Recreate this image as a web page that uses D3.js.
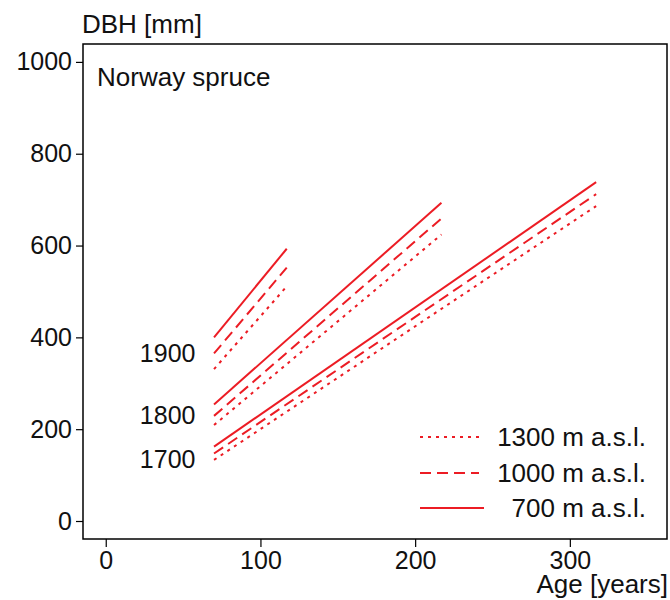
<html lang="en">
<head>
<meta charset="utf-8">
<script src="https://cdn.jsdelivr.net/npm/d3@7"></script>
</head>
<style>
body{margin:0;background:#fff;}
svg{font-family:"Liberation Sans",Arial,sans-serif;}
</style>
<body>
<div id="drawarea"></div>
<script>
// cohorts (germination century), ages at start / end of each curve
const cohorts = ["1700","1800","1900"]
const ages = {"1700":[70,317],"1800":[70,217],"1900":[70,117]}
// DBH [mm] at the ages above, per elevation
const dbh700  = {"1700":[162,738],"1800":[254,693],"1900":[400,593]}
const dbh1000 = {"1700":[147,712],"1800":[229,659],"1900":[365,552]}
const dbh1300 = {"1700":[133,686],"1800":[209,624],"1900":[331,511]}
const elevations = ["1300 m a.s.l.","1000 m a.s.l.","700 m a.s.l."]
const xTicks = [0,100,200,300]
const yTicks = [0,200,400,600,800,1000]
// where the cohort names sit (age, dbh)
const cohortLabelPos = {"1700":[58,115],"1800":[58,211],"1900":[58,347]}

const W=670,H=600
const red="#ec1c24"
const box={l:83,r:667,t:44,b:539}

const x=d3.scaleLinear().domain([-14.7,362.8]).range([box.l,box.r])
const y=d3.scaleLinear().domain([-39.2,1039]).range([box.b,box.t])

const svg=d3.select("#drawarea").append("svg").attr("width",W).attr("height",H)

svg.append("rect").attr("x",box.l).attr("y",box.t).attr("width",box.r-box.l).attr("height",box.b-box.t)
  .attr("fill","none").attr("stroke","#000").attr("stroke-width",1.5)

// axes
const yAxis=d3.axisLeft(y).tickValues(yTicks).tickFormat(d3.format("d")).tickSize(7).tickPadding(4)
const gy=svg.append("g").attr("transform","translate("+box.l+",0)").call(yAxis)
const xAxis=d3.axisBottom(x).tickValues(xTicks).tickFormat(d3.format("d")).tickSize(8).tickPadding(4)
const gx=svg.append("g").attr("transform","translate(0,"+box.b+")").call(xAxis)
;[gx,gy].forEach(g=>{
  g.select(".domain").remove()
  g.selectAll(".tick line").attr("stroke","#000").attr("stroke-width",1.2)
  g.selectAll(".tick text").attr("font-size","25px").attr("fill","#111").attr("font-family","Liberation Sans, Arial, sans-serif")
})

svg.append("text").attr("x",82).attr("y",33).attr("font-size","26px").attr("fill","#111").text("DBH [mm]")
svg.append("text").attr("x",668).attr("y",593).attr("text-anchor","end").attr("font-size","26px").attr("fill","#111").text("Age [years]")
svg.append("text").attr("x",97).attr("y",86).attr("font-size","26px").attr("fill","#111").text("Norway spruce")

const styles=[
  {name:elevations[0],data:dbh1300,dash:"3,5"},
  {name:elevations[1],data:dbh1000,dash:"11,6"},
  {name:elevations[2],data:dbh700,dash:null}
]
const line=d3.line().x(d=>x(d[0])).y(d=>y(d[1]))

const plot=svg.append("g")
styles.forEach(s=>{
  cohorts.forEach(c=>{
    const pts=ages[c].map((a,i)=>[a,s.data[c][i]])
    plot.append("path").datum(pts).attr("d",line).attr("fill","none")
      .attr("stroke",red).attr("stroke-width",2)
      .attr("stroke-dasharray",s.dash)
  })
})

cohorts.forEach(c=>{
  svg.append("text").attr("x",x(cohortLabelPos[c][0])).attr("y",y(cohortLabelPos[c][1]))
    .attr("text-anchor","end").attr("font-size","25px").attr("fill","#111").text(c)
})

// legend
const legY=[437,473,508]
styles.forEach((s,i)=>{
  svg.append("line").attr("x1",420).attr("x2",i==2?484:479).attr("y1",legY[i]).attr("y2",legY[i])
    .attr("stroke",red).attr("stroke-width",2).attr("stroke-dasharray",s.dash)
  svg.append("text").attr("x",646).attr("y",legY[i]+9).attr("text-anchor","end")
    .attr("font-size","26px").attr("fill","#111").text(s.name)
})
</script>
</body>
</html>
